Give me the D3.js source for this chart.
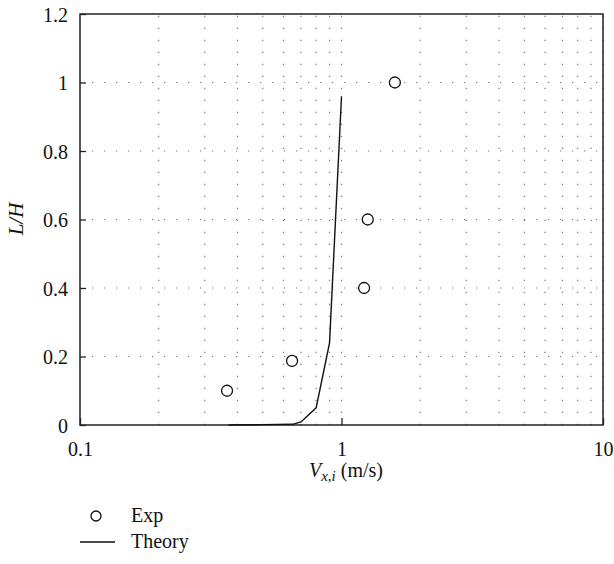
<!DOCTYPE html>
<html><head><meta charset="utf-8">
<script src="https://cdn.jsdelivr.net/npm/d3@7"></script>
<style>body{margin:0;background:#fff} svg text{font-family:'Liberation Serif','Times New Roman',Times,serif !important}</style>
</head><body><svg id="c" width="614" height="564"></svg>
<script>
const expX = [0.365, 0.647, 1.22, 1.26, 1.60];
const expY = [0.10, 0.187, 0.40, 0.60, 1.00];
const theoryX = [0.37, 0.5, 0.65, 0.70, 0.80, 0.90, 1.00];
const theoryY = [0.0, 0.001, 0.002, 0.009, 0.05, 0.24, 0.96];
const xTicks = [0.1, 1, 10];
const yTicks = [0, 0.2, 0.4, 0.6, 0.8, 1, 1.2];

const FONT = "'Liberation Serif','Times New Roman',Times,serif";
const svg = d3.select("#c");
const L = 80, R = 603, T = 14, B = 425;
const x = d3.scaleLog().domain([0.1, 10]).range([L, R]);
const y = d3.scaleLinear().domain([0, 1.2]).range([B, T]);

const grid = svg.append("g").attr("stroke", "#777").attr("stroke-width", 1.2).attr("stroke-dasharray", "1.2,10.8");
const minor = [];
for (const d of [0.1, 1]) for (let k = 2; k <= 10; k++) minor.push(d * k);
grid.selectAll("line.v").data(minor).enter().append("line")
  .attr("x1", d => x(d)).attr("x2", d => x(d)).attr("y1", B).attr("y2", T);
grid.selectAll("line.h").data(yTicks.filter(v => v > 0 && v < 1.2)).enter().append("line")
  .attr("x1", L).attr("x2", R).attr("y1", d => y(d)).attr("y2", d => y(d));

const ax = svg.append("g").attr("transform", `translate(0,${B})`)
  .call(d3.axisBottom(x).tickValues(xTicks).tickFormat(d => String(d)).tickSizeInner(-7).tickSizeOuter(0).tickPadding(17));
const ay = svg.append("g").attr("transform", `translate(${L},0)`)
  .call(d3.axisLeft(y).tickValues(yTicks).tickFormat(d => String(d)).tickSizeInner(-6).tickSizeOuter(0).tickPadding(12));
[ax, ay].forEach(a => {
  a.attr("font-family", FONT);
  a.select(".domain").remove();
  a.selectAll("line").attr("stroke", "#222").attr("stroke-width", 1.3);
  a.selectAll("text").attr("font-size", 20).attr("fill", "#111").style("font-family", FONT);
});
ay.selectAll(".tick text").attr("dy", "0.35em");

svg.append("rect").attr("x", L).attr("y", T).attr("width", R - L).attr("height", B - T)
  .attr("fill", "none").attr("stroke", "#222").attr("stroke-width", 1.5);

const th = theoryX.map((v, i) => [v, theoryY[i]]);
svg.append("path").datum(th).attr("fill", "none").attr("stroke", "#111").attr("stroke-width", 1.4)
  .attr("d", d3.line().x(d => x(d[0])).y(d => y(d[1])));

svg.selectAll("circle.e").data(expX).enter().append("circle")
  .attr("cx", d => x(d)).attr("cy", (d, i) => y(expY[i])).attr("r", 5.5)
  .attr("fill", "#fff").attr("stroke", "#111").attr("stroke-width", 1.3);

const xl = svg.append("text").attr("x", 346).attr("y", 477).attr("text-anchor", "middle").attr("font-size", 20).attr("fill", "#111").style("font-family", FONT);
xl.append("tspan").attr("font-style", "italic").text("V");
xl.append("tspan").attr("font-style", "italic").attr("font-size", 15).attr("dy", 4).text("x,i");
xl.append("tspan").attr("dy", -4).text(" (m/s)");

svg.append("text").attr("transform", "translate(23,219) rotate(-90)").attr("text-anchor", "middle")
  .attr("font-size", 21).attr("font-style", "italic").attr("fill", "#111").style("font-family", FONT).text("L/H");

svg.append("circle").attr("cx", 96).attr("cy", 516).attr("r", 5).attr("fill", "#fff").attr("stroke", "#111").attr("stroke-width", 1.3);
svg.append("text").attr("x", 131).attr("y", 522).attr("font-size", 20).attr("fill", "#111").style("font-family", FONT).text("Exp");
svg.append("line").attr("x1", 80).attr("x2", 115).attr("y1", 542).attr("y2", 542).attr("stroke", "#111").attr("stroke-width", 1.3);
svg.append("text").attr("x", 131).attr("y", 548).attr("font-size", 20).attr("fill", "#111").style("font-family", FONT).text("Theory");
</script></body></html>
